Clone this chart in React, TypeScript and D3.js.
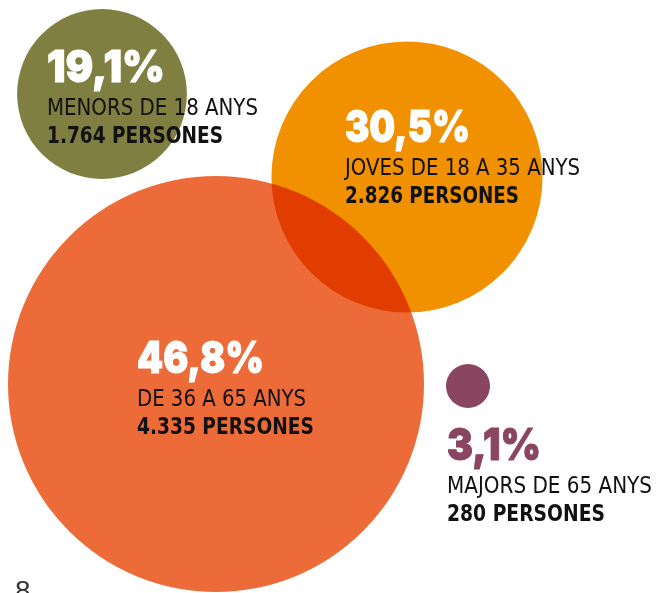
import React from "react";
import * as d3 from "d3";

const categories = ["MENORS DE 18 ANYS", "JOVES DE 18 A 35 ANYS", "DE 36 A 65 ANYS", "MAJORS DE 65 ANYS"];
const percentages = [19.1, 30.5, 46.8, 3.1];
const persons = [1764, 2826, 4335, 280];
const colors = ["#7f7f41", "#f29100", "#ed6b39", "#8a4561"];
const pageNumber = "8";

// layout (positions, not data)
const centers: [number, number][] = [[102, 94], [407, 177], [216, 384], [468, 386]];
const textAnchors: [number, number][] = [[47, 82], [345, 142], [137, 373], [447, 460]];
const pctWidths = [118, 125, 127, 94];
const catWidths = [211, 235, 169, 205];
const personWidths = [176, 174, 177, 158];
const pctColors = ["#ffffff", "#ffffff", "#ffffff", "#8a4561"];

const W = 658, H = 593;
const locale = d3.formatLocale({ decimal: ",", thousands: ".", grouping: [3], currency: ["", "€"] });
const fmtPct = locale.format(".1f");
const fmtInt = locale.format(",d");

export default function App() {
  const r = d3.scaleLinear().domain([0, d3.max(percentages) as number]).range([0, 208]);
  const minR = 22;
  const order = [0, 1, 2, 3];
  return (
    <svg width={W} height={H} style={{ position: "absolute", left: 0, top: 0, background: "#fff" }}>
      <g>
        {order.map((i) => (
          <circle
            key={i}
            cx={centers[i][0]}
            cy={centers[i][1]}
            r={Math.max(r(percentages[i]), minR)}
            fill={colors[i]}
            style={{ mixBlendMode: "multiply" }}
          />
        ))}
      </g>
      <g>
        {order.map((i) => {
          const [x, y] = textAnchors[i];
          return (
            <g key={i}>
              <text
                x={x}
                y={y}
                fill={pctColors[i]}
                stroke={pctColors[i]}
                strokeWidth={1}
                fontFamily="Inter, 'DejaVu Sans', sans-serif"
                fontWeight={900}
                fontSize={44}
                textLength={pctWidths[i]}
                lengthAdjust="spacingAndGlyphs"
              >
                {fmtPct(percentages[i]) + "%"}
              </text>
              <text
                x={x}
                y={y + 33}
                fill="#111"
                fontFamily="'Liberation Sans Narrow', 'DejaVu Sans Condensed', sans-serif"
                fontSize={23}
                textLength={catWidths[i]}
                lengthAdjust="spacingAndGlyphs"
              >
                {categories[i]}
              </text>
              <text
                x={x}
                y={y + 61}
                fill="#111"
                fontFamily="'Liberation Sans Narrow', 'DejaVu Sans Condensed', sans-serif"
                fontWeight={700}
                fontSize={23}
                textLength={personWidths[i]}
                lengthAdjust="spacingAndGlyphs"
              >
                {fmtInt(persons[i]) + " PERSONES"}
              </text>
            </g>
          );
        })}
      </g>
      <text x={15} y={600} fill="#333" fontFamily="'Liberation Sans Narrow', sans-serif" fontSize={28}>
        {pageNumber}
      </text>
    </svg>
  );
}
